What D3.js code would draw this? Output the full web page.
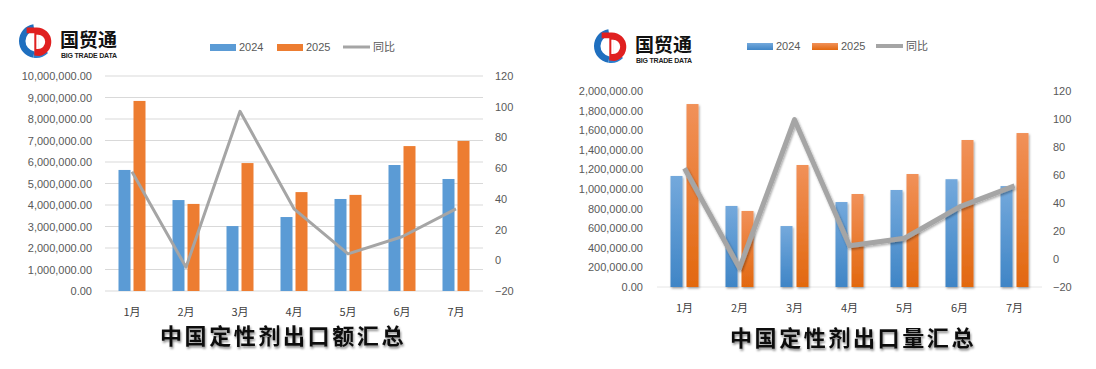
<!DOCTYPE html>
<html><head><meta charset="utf-8">
<script src="https://cdn.jsdelivr.net/npm/d3@7"></script>
<style>body{margin:0;background:#fff}svg{display:block}</style>
</head><body><svg id="c" width="1096" height="369"></svg>
<script>
const months = ["1月","2月","3月","4月","5月","6月","7月"];
const seriesNames = ["2024","2025","同比"];
const value2024 = [5630000, 4230000, 3020000, 3440000, 4280000, 5860000, 5210000];
const value2025 = [8840000, 4050000, 5950000, 4600000, 4470000, 6740000, 6980000];
const valueYoY  = [57.7, -4.5, 97.0, 33.5, 4.2, 15.3, 33.5];
const volume2024 = [1133000, 827000, 622000, 867000, 990000, 1100000, 1030000];
const volume2025 = [1867000, 776000, 1245000, 949000, 1153000, 1500000, 1571000];
const volumeYoY  = [64.8, -6.5, 99.5, 9.5, 14.8, 37.2, 52.2];
const valueTicks = d3.range(0, 10000001, 1000000);
const volumeTicks = d3.range(0, 2000001, 200000);
const yoyTicks = d3.range(-20, 121, 20);
const titles = ["中国定性剂出口额汇总", "中国定性剂出口量汇总"];

const svg = d3.select("#c");
const defs = svg.append("defs");
const fmt = d3.format(",.2f");
const LAT = "'Liberation Sans', Arial, sans-serif";
const CJK = "'Noto Sans CJK SC', sans-serif";
const TXT = "#595959";

// filters & gradients
const sh = defs.append("filter").attr("id","sh").attr("x","-30%").attr("y","-30%").attr("width","160%").attr("height","160%");
sh.append("feDropShadow").attr("dx",1).attr("dy",1.5).attr("stdDeviation",1.3).attr("flood-color","#000").attr("flood-opacity",0.35);
const tsh = defs.append("filter").attr("id","tsh").attr("x","-10%").attr("y","-30%").attr("width","120%").attr("height","170%");
tsh.append("feDropShadow").attr("dx",1).attr("dy",2).attr("stdDeviation",1.2).attr("flood-color","#000").attr("flood-opacity",0.45);
function grad(id, top, bot){
  const g = defs.append("linearGradient").attr("id",id).attr("x1",0).attr("y1",0).attr("x2",0).attr("y2",1);
  g.append("stop").attr("offset","0%").attr("stop-color",top);
  g.append("stop").attr("offset","100%").attr("stop-color",bot);
}
grad("gb","#74a9dc","#3f85c6");
grad("go","#f19159","#e2680f");

function logo(g, cx, cy, s){
  const r = 17*s;
  // blue crescent
  g.append("path").attr("d", d3.arc().innerRadius(r*0.62).outerRadius(r).startAngle(-Math.PI*0.95).endAngle(-Math.PI*0.05)())
    .attr("transform",`translate(${cx},${cy})`).attr("fill","#1f6fbf");
  g.append("path").attr("d", d3.arc().innerRadius(r*0.62).outerRadius(r).startAngle(Math.PI*0.75).endAngle(Math.PI*1.05)())
    .attr("transform",`translate(${cx},${cy})`).attr("fill","#2a7fd0");
  // red D
  const p = d3.path();
  p.moveTo(cx - r*0.55, cy - r*0.8);
  p.lineTo(cx + r*0.05, cy - r*0.8);
  p.arc(cx + r*0.05, cy + r*0.05, r*0.85, -Math.PI/2, Math.PI/2*0.9);
  p.lineTo(cx - r*0.1, cy + r*0.85);
  p.lineTo(cx - r*0.1, cy - r*0.45);
  p.lineTo(cx - r*0.55, cy - r*0.45);
  p.closePath();
  g.append("path").attr("d", p.toString()).attr("fill","#e02020");
  g.append("path").attr("d", d3.arc().innerRadius(0).outerRadius(r*0.42).startAngle(0).endAngle(Math.PI)())
    .attr("transform",`translate(${cx + r*0.12},${cy + r*0.05})`).attr("fill","#fff");
  g.append("rect").attr("x", cx + r*0.02).attr("y", cy - r*0.37).attr("width", r*0.1).attr("height", r*0.84).attr("fill","#fff");
}

function drawChart(o){
  const g = svg.append("g");
  const x = d3.scaleBand().domain(months).range(o.xr).padding(0);
  const xs = d3.scaleBand().domain(seriesNames.slice(0,2)).range([0, o.pair]).paddingInner(o.pin);
  const y = d3.scaleLinear().domain([0, o.ticks[o.ticks.length-1]]).range(o.yr);
  const y2 = d3.scaleLinear().domain([yoyTicks[0], yoyTicks[yoyTicks.length-1]]).range(o.yr);

  if (o.grid) {
    g.append("g").selectAll("line").data(o.ticks).join("line")
      .attr("x1", o.xr[0]).attr("x2", o.xr[1]).attr("y1", d=>y(d)).attr("y2", d=>y(d))
      .attr("stroke","#d9d9d9").attr("stroke-width",1);
  } else {
    g.append("line").attr("x1", o.xr[0]).attr("x2", o.xr[1]).attr("y1", y(0)).attr("y2", y(0))
      .attr("stroke","#e6e6e6").attr("stroke-width",1);
  }

  // left axis
  const la = g.append("g").attr("transform",`translate(${o.lx},0)`)
    .call(d3.axisLeft(y).tickValues(o.ticks).tickFormat(fmt).tickSize(0).tickPadding(0));
  la.select(".domain").remove();
  la.selectAll("text").attr("font-family",LAT).attr("font-size",o.fs).attr("fill",TXT);
  // right axis
  const ra = g.append("g").attr("transform",`translate(${o.rx},0)`)
    .call(d3.axisRight(y2).tickValues(yoyTicks).tickSize(0).tickPadding(0));
  ra.select(".domain").remove();
  ra.selectAll("text").attr("font-family",LAT).attr("font-size",o.fs).attr("fill",TXT);
  // x axis
  const xa = g.append("g").attr("transform",`translate(0,${o.yr[0] + o.xoff})`)
    .call(d3.axisBottom(x).tickSize(0).tickPadding(0));
  xa.select(".domain").remove();
  xa.selectAll("text").attr("font-family",CJK).attr("font-size",11).attr("fill","#404040");

  const rows = months.map((m,i)=>({m, a:o.a[i], b:o.b[i]}));
  const bars = g.append("g").attr("filter", o.shadow ? "url(#sh)" : null);
  const left = m => x(m) + x.bandwidth()/2 - o.pair/2;
  bars.selectAll(".ba").data(rows).join("rect")
    .attr("x", d=>left(d.m) + xs("2024")).attr("width", xs.bandwidth())
    .attr("y", d=>y(d.a)).attr("height", d=>y(0)-y(d.a)).attr("fill", o.cA);
  bars.selectAll(".bb").data(rows).join("rect")
    .attr("x", d=>left(d.m) + xs("2025")).attr("width", xs.bandwidth())
    .attr("y", d=>y(d.b)).attr("height", d=>y(0)-y(d.b)).attr("fill", o.cB);

  const line = d3.line().x((d,i)=>x(months[i]) + x.bandwidth()/2).y(d=>y2(d));
  g.append("path").datum(o.yoy).attr("d", line).attr("fill","none")
    .attr("stroke","#a5a5a5").attr("stroke-width", o.lw).attr("stroke-linejoin","round")
    .attr("filter", o.shadow ? "url(#sh)" : null);

  // legend
  const lg = g.append("g").attr("font-family",LAT).attr("font-size",11).attr("fill",TXT);
  const L = o.leg;
  lg.append("rect").attr("x",L[0]).attr("y",L[3]-3).attr("width",26).attr("height",7).attr("fill",o.cA);
  lg.append("text").attr("x",L[0]+29).attr("y",L[3]+4).text(seriesNames[0]);
  lg.append("rect").attr("x",L[1]).attr("y",L[3]-3).attr("width",26).attr("height",7).attr("fill",o.cB);
  lg.append("text").attr("x",L[1]+29).attr("y",L[3]+4).text(seriesNames[1]);
  lg.append("line").attr("x1",L[2]).attr("x2",L[2]+27).attr("y1",L[3]).attr("y2",L[3])
    .attr("stroke","#a5a5a5").attr("stroke-width",o.lw === 3 ? 3 : 4);
  lg.append("text").attr("x",L[2]+30).attr("y",L[3]+4).attr("font-family",CJK).text(seriesNames[2]);

  // title
  g.append("text").attr("x",o.tx).attr("y",o.ty).attr("text-anchor","middle")
    .attr("font-family",CJK).attr("font-weight","bold").attr("font-size",22)
    .attr("letter-spacing",2.6).attr("fill","#111").attr("filter","url(#tsh)").text(o.title);

  // logo
  const lgo = g.append("g");
  logo(lgo, o.logo[0], o.logo[1], 1);
  lgo.append("text").attr("x",o.logo[0]+24).attr("y",o.logo[1]+6).attr("font-family",CJK)
    .attr("font-weight","bold").attr("font-size",19).attr("fill","#111").text("国贸通");
  lgo.append("text").attr("x",o.logo[0]+25).attr("y",o.logo[1]+17).attr("font-family",LAT)
    .attr("font-weight","bold").attr("font-size",7).attr("fill","#222").attr("textLength",56).text("BIG TRADE DATA");
}

drawChart({a:value2024, b:value2025, yoy:valueYoY, ticks:valueTicks,
  xr:[105,483], yr:[291,76], pair:27, pin:0.2, lx:92, rx:495, fs:11, xoff:17,
  grid:true, shadow:false, cA:"#5b9bd5", cB:"#ed7d31", lw:3,
  leg:[210,277,343,47], tx:283, ty:344, title:titles[0], logo:[36,41]});

drawChart({a:volume2024, b:volume2025, yoy:volumeYoY, ticks:volumeTicks,
  xr:[657,1042], yr:[287,91], pair:28, pin:0.25, lx:643, rx:1053, fs:11, xoff:17,
  grid:false, shadow:true, cA:"url(#gb)", cB:"url(#go)", lw:5,
  leg:[747,812,876,46], tx:853, ty:346, title:titles[1], logo:[611,46]});
</script></body></html>
